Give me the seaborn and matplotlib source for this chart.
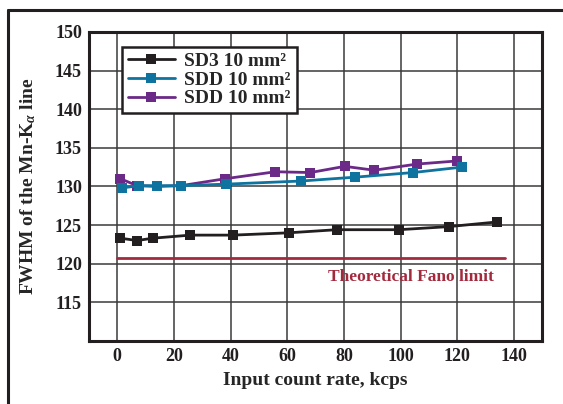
import numpy as np
import pandas as pd
import seaborn as sns
import matplotlib.pyplot as plt
from matplotlib.lines import Line2D

# FWHM vs input count rate
sd3_rate = [1.1, 7.0, 12.5, 25.8, 40.9, 60.5, 77.4, 99.3, 117.0, 134.0]
sd3_fwhm = [123.3, 123.0, 123.3, 123.7, 123.7, 124.0, 124.4, 124.4, 124.8, 125.4]

sdd_a_rate = [1.7, 7.5, 14.0, 22.5, 38.5, 64.9, 83.9, 104.5, 121.6]
sdd_a_fwhm = [129.8, 130.1, 130.1, 130.1, 130.3, 130.7, 131.2, 131.8, 132.5]

sdd_b_rate = [1.1, 7.0, 14.0, 22.5, 38.1, 55.8, 68.2, 80.3, 90.7, 105.9, 120.0]
sdd_b_fwhm = [131.0, 130.1, 130.0, 130.1, 131.0, 131.9, 131.8, 132.6, 132.1, 132.9, 133.3]

fano_rate = [0, 137]
fano_fwhm = [120.8, 120.8]

labels = ["SD3 10 mm²", "SDD 10 mm²", "SDD 10 mm² "]
colors = ["#231f20", "#0f73a0", "#6b2a87"]

df = pd.concat([
    pd.DataFrame({"rate": sd3_rate, "fwhm": sd3_fwhm, "det": labels[0]}),
    pd.DataFrame({"rate": sdd_a_rate, "fwhm": sdd_a_fwhm, "det": labels[1]}),
    pd.DataFrame({"rate": sdd_b_rate, "fwhm": sdd_b_fwhm, "det": labels[2]}),
])

sns.set_style("white")
plt.rcParams["font.family"] = ["Liberation Serif", "DejaVu Serif"]
plt.rcParams["mathtext.fontset"] = "custom"
plt.rcParams["mathtext.rm"] = "Liberation Serif:bold"
plt.rcParams["mathtext.it"] = "Liberation Serif:italic:bold"

fig = plt.figure(figsize=(5.63, 4.04), dpi=100)
ax = fig.add_axes([0.158, 0.156, 0.805, 0.765])

# purple first so blue sits on top like the original
for lab, col in zip(labels[::-1], colors[::-1]):
    sub = df[df["det"] == lab]
    sns.lineplot(data=sub, x="rate", y="fwhm", ax=ax, color=col, lw=2,
                 marker="s", markersize=7.5, markeredgewidth=0, zorder=3)

ax.plot(fano_rate, fano_fwhm, color="#a3293d", lw=2, zorder=2)
ax.text(103.5, 118.3, "Theoretical Fano limit", color="#a3293d",
        fontsize=12.5, fontweight="bold", ha="center", va="center")

ax.set_xlim(-10, 150)
ax.set_ylim(110, 150)
ax.set_xticks(np.arange(0, 141, 20))
ax.set_yticks(np.arange(115, 151, 5))
ax.grid(True, color="#3a3a3a", lw=1.1)
ax.set_axisbelow(True)
ax.tick_params(length=0, labelsize=13, pad=5)
for t in ax.get_xticklabels() + ax.get_yticklabels():
    t.set_fontweight("bold")
    t.set_color("#231f20")
for s in ax.spines.values():
    s.set_linewidth(2.2)
    s.set_color("#231f20")

ax.set_xlabel("Input count rate, kcps", fontsize=14, fontweight="bold", labelpad=5)
ax.set_ylabel(r"FWHM of the Mn-K$_{\alpha}$ line", fontsize=14, fontweight="bold", labelpad=12)

handles = [Line2D([], [], color=c, lw=2, marker="s", markersize=7, markeredgewidth=0)
           for c in colors]
leg = ax.legend(handles, [l.strip() for l in labels], loc="upper left",
                bbox_to_anchor=(0.073, 0.952), borderaxespad=0, fancybox=False, framealpha=1,
                edgecolor="#231f20", prop={"family": "Liberation Serif", "weight": "bold", "size": 14},
                handlelength=2.4, borderpad=0.3, labelspacing=0.05, handletextpad=0.5)
leg.get_frame().set_linewidth(1.8)

# outer frame of the figure (top and left edges)
fig.add_artist(Line2D([8 / 563, 1], [1 - 9.5 / 404, 1 - 9.5 / 404], color="#231f20", lw=2.2))
fig.add_artist(Line2D([8 / 563, 8 / 563], [0, 1 - 9.5 / 404], color="#231f20", lw=2.2))

fig.savefig("out.png", dpi=100)
